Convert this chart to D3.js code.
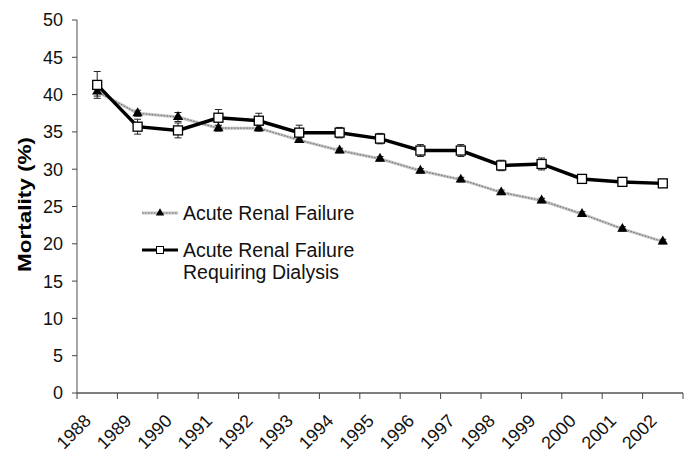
<!DOCTYPE html>
<html>
<head>
<meta charset="utf-8">
<script src="https://cdn.jsdelivr.net/npm/d3@7"></script>
<style>
  body { margin: 0; background: #fff; }
  svg { font-family: "Liberation Sans", Arial, sans-serif; }
</style>
</head>
<body>
<div id="chart"></div>
<script>
var years = ['1988', '1989', '1990', '1991', '1992', '1993', '1994', '1995',
  '1996', '1997', '1998', '1999', '2000', '2001', '2002'];
var arf = [40.4, 37.5, 37.0, 35.5, 35.5, 33.9, 32.5, 31.4, 29.8, 28.6, 26.9, 25.8, 24.0, 22.0, 20.3];
var arfErr = [0.6, 0.4, 0.6, 0.4, 0.4, 0.3, 0.3, 0.3, 0.3, 0.3, 0.3, 0.3, 0.3, 0.3, 0.3];
var dialysis = [41.3, 35.7, 35.2, 36.9, 36.5, 34.9, 34.9, 34.1, 32.5, 32.5, 30.5, 30.7, 28.7, 28.3, 28.1];
var dialysisErr = [1.8, 1.0, 1.0, 1.1, 1.0, 1.0, 0.7, 0.7, 0.8, 0.8, 0.7, 0.8, 0.5, 0.4, 0.3];
var yTicks = [0, 5, 10, 15, 20, 25, 30, 35, 40, 45, 50];

var W = 687, H = 454;
var margin = { top: 20, right: 4, bottom: 61, left: 77 };
var width = W - margin.left - margin.right,
  height = H - margin.top - margin.bottom;

var svg = d3.select('#chart').append('svg')
  .attr('width', W).attr('height', H)
  .append('g')
  .attr('transform', 'translate(' + margin.left + ',' + margin.top + ')');

var x = d3.scaleBand().domain(years).range([0, width]);
var y = d3.scaleLinear().domain([0, 50]).range([height, 0]);
function cx(i) { return x(years[i]) + x.bandwidth() / 2; }

// y axis
var yAxis = svg.append('g').attr('class', 'y axis');
yAxis.append('line')
  .attr('x1', 0).attr('x2', 0).attr('y1', 0).attr('y2', height)
  .attr('stroke', '#888').attr('stroke-width', 1.5);
yAxis.selectAll('.tick').data(yTicks).enter().append('g')
  .attr('transform', function(d) { return 'translate(0,' + y(d) + ')'; })
  .each(function(d) {
    var g = d3.select(this);
    g.append('line').attr('x1', -5).attr('x2', 0).attr('stroke', '#444');
    g.append('text').attr('x', -14).attr('dy', '0.36em')
      .attr('text-anchor', 'end').attr('font-size', 18).attr('fill', '#111')
      .text(d);
  });

svg.append('text')
  .attr('transform', 'translate(-46,' + (height / 2 - 2) + ') rotate(-90)')
  .attr('text-anchor', 'middle')
  .attr('font-size', 19).attr('font-weight', 'bold')
  .attr('textLength', 135).attr('lengthAdjust', 'spacingAndGlyphs')
  .text('Mortality (%)');

// x axis
var xAxis = svg.append('g').attr('transform', 'translate(0,' + height + ')');
xAxis.append('line').attr('x1', 0).attr('x2', width)
  .attr('stroke', '#555').attr('stroke-width', 1.5);
var bounds = years.map(function(d) { return x(d); }).concat([width]);
xAxis.selectAll('.tk').data(bounds).enter().append('line')
  .attr('x1', function(d) { return d; }).attr('x2', function(d) { return d; })
  .attr('y1', 0).attr('y2', 6).attr('stroke', '#444');
xAxis.selectAll('.lbl').data(years).enter().append('text')
  .attr('transform', function(d, i) {
    return 'translate(' + (cx(i) - 5) + ',29) rotate(-45)';
  })
  .attr('text-anchor', 'end')
  .attr('font-size', 18).attr('fill', '#111')
  .text(function(d) { return d; });

// error bars
function errorBars(vals, errs, color) {
  var g = svg.append('g');
  vals.forEach(function(v, i) {
    var xc = cx(i), top = y(v + errs[i]), bot = y(v - errs[i]);
    g.append('line').attr('x1', xc).attr('x2', xc).attr('y1', top).attr('y2', bot)
      .attr('stroke', color).attr('stroke-width', 1);
    g.append('line').attr('x1', xc - 3.5).attr('x2', xc + 3.5).attr('y1', top).attr('y2', top)
      .attr('stroke', color).attr('stroke-width', 1);
    g.append('line').attr('x1', xc - 3.5).attr('x2', xc + 3.5).attr('y1', bot).attr('y2', bot)
      .attr('stroke', color).attr('stroke-width', 1);
  });
}
errorBars(dialysis, dialysisErr, '#222');
errorBars(arf, arfErr, '#222');

var line = d3.line()
  .x(function(d, i) { return cx(i); })
  .y(function(d) { return y(d); });

// ARF line (grey, dotted texture)
svg.append('path').datum(arf)
  .attr('d', line).attr('fill', 'none')
  .attr('stroke', '#c4c4c4').attr('stroke-width', 3);
svg.append('path').datum(arf)
  .attr('d', line).attr('fill', 'none')
  .attr('stroke', '#777').attr('stroke-width', 1.2)
  .attr('stroke-dasharray', '1.5,1.5');
// dialysis line
svg.append('path').datum(dialysis)
  .attr('d', line).attr('fill', 'none')
  .attr('stroke', '#000').attr('stroke-width', 3.5);

var tri = d3.symbol().type(d3.symbolTriangle).size(46);
svg.selectAll('.tri').data(arf).enter().append('path')
  .attr('d', tri)
  .attr('transform', function(d, i) { return 'translate(' + cx(i) + ',' + y(d) + ')'; })
  .attr('fill', '#000');
svg.selectAll('.sq').data(dialysis).enter().append('rect')
  .attr('x', function(d, i) { return cx(i) - 4.5; })
  .attr('y', function(d) { return y(d) - 4.5; })
  .attr('width', 9).attr('height', 9)
  .attr('fill', '#fff').attr('stroke', '#000').attr('stroke-width', 1.3);

// legend
var leg = svg.append('g').attr('transform', 'translate(' + (142 - margin.left) + ',' + (213 - margin.top) + ')');
leg.append('line').attr('x1', 0).attr('x2', 36).attr('y1', 0).attr('y2', 0)
  .attr('stroke', '#c4c4c4').attr('stroke-width', 3);
leg.append('line').attr('x1', 0).attr('x2', 36).attr('y1', 0).attr('y2', 0)
  .attr('stroke', '#777').attr('stroke-width', 1.2).attr('stroke-dasharray', '1.5,1.5');
leg.append('path').attr('d', d3.symbol().type(d3.symbolTriangle).size(30)())
  .attr('transform', 'translate(18,0)').attr('fill', '#000');
leg.append('text').attr('x', 41).attr('dy', '0.36em').attr('font-size', 19.5)
  .attr('fill', '#111').text('Acute Renal Failure');

var leg2 = leg.append('g').attr('transform', 'translate(0,37)');
leg2.append('line').attr('x1', 0).attr('x2', 36).attr('y1', 0).attr('y2', 0)
  .attr('stroke', '#000').attr('stroke-width', 3);
leg2.append('rect').attr('x', 14.5).attr('y', -3.5).attr('width', 7).attr('height', 7)
  .attr('fill', '#fff').attr('stroke', '#000').attr('stroke-width', 1);
leg2.append('text').attr('x', 41).attr('dy', '0.36em').attr('font-size', 19.5)
  .attr('fill', '#111').text('Acute Renal Failure');
leg2.append('text').attr('x', 41).attr('y', 22).attr('dy', '0.36em').attr('font-size', 19.5)
  .attr('fill', '#111').text('Requiring Dialysis');
</script>
</body>
</html>
